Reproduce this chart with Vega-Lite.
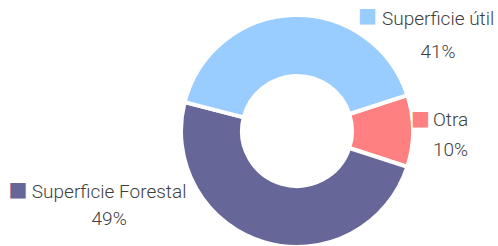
{
  "$schema": "https://vega.github.io/schema/vega-lite/v6.json",
  "autosize": {"type": "none"},
  "width": 400,
  "height": 230,
  "padding": {"left": 97, "top": 16, "right": 1, "bottom": 0},
  "background": "white",
  "config": {"view": {"stroke": null}},
  "data": {
    "values": [
      {"categoria": "Otra", "valor": 10},
      {"categoria": "Superficie Forestal", "valor": 49},
      {"categoria": "Superficie útil", "valor": 41}
    ]
  },
  "transform": [
    {"stack": "valor", "groupby": [], "as": ["v0", "v1"]},
    {"calculate": "(datum.v0 + datum.v1) / 2", "as": "vmid"},
    {"calculate": "[datum.categoria, datum.valor + '%']", "as": "etiqueta"}
  ],
  "layer": [
    {
      "mark": {"type": "arc", "innerRadius": 55, "outerRadius": 116, "stroke": "white", "strokeWidth": 4},
      "encoding": {
        "theta": {"field": "v0", "type": "quantitative", "stack": null, "scale": {"domain": [0, 100], "range": [1.2566370614, 7.5398223686]}},
        "theta2": {"field": "v1"},
        "color": {"field": "categoria", "type": "nominal", "legend": null, "scale": {"domain": ["Otra", "Superficie Forestal", "Superficie útil"], "range": ["#FF8080", "#666699", "#99CCFF"]}}
      }
    },
    {
      "transform": [{"filter": "datum.categoria == 'Superficie útil'"}],
      "mark": {"type": "text", "radius": 125, "dx": 145, "dy": 19, "align": "center", "baseline": "alphabetic", "lineHeight": 33, "font": "Roboto", "fontSize": 19, "fontWeight": 300, "color": "#404040"},
      "encoding": {
        "theta": {"field": "vmid", "type": "quantitative", "stack": null, "scale": {"domain": [0, 100], "range": [1.2566370614, 7.5398223686]}},
        "text": {"field": "etiqueta"}
      }
    },
    {
      "transform": [{"filter": "datum.categoria == 'Otra'"}],
      "mark": {"type": "text", "radius": 125, "dx": 28.5, "dy": -5, "align": "center", "baseline": "alphabetic", "lineHeight": 30, "font": "Roboto", "fontSize": 19, "fontWeight": 300, "color": "#404040"},
      "encoding": {
        "theta": {"field": "vmid", "type": "quantitative", "stack": null, "scale": {"domain": [0, 100], "range": [1.2566370614, 7.5398223686]}},
        "text": {"field": "etiqueta"}
      }
    },
    {
      "transform": [{"filter": "datum.categoria == 'Superficie Forestal'"}],
      "mark": {"type": "text", "radius": 125, "dx": -153, "dy": -53, "align": "center", "baseline": "alphabetic", "lineHeight": 27, "font": "Roboto", "fontSize": 19, "fontWeight": 300, "color": "#404040"},
      "encoding": {
        "theta": {"field": "vmid", "type": "quantitative", "stack": null, "scale": {"domain": [0, 100], "range": [1.2566370614, 7.5398223686]}},
        "text": {"field": "etiqueta"}
      }
    },
    {
      "transform": [{"filter": "datum.categoria == 'Superficie útil'"}],
      "mark": {"type": "text", "radius": 125, "dx": 74.4, "dy": 10.4, "align": "center", "baseline": "middle", "font": "DejaVu Sans", "fontSize": 20, "text": "■"},
      "encoding": {
        "theta": {"field": "vmid", "type": "quantitative", "stack": null, "scale": {"domain": [0, 100], "range": [1.2566370614, 7.5398223686]}},
        "color": {"field": "categoria", "type": "nominal", "legend": null}
      }
    },
    {
      "transform": [{"filter": "datum.categoria == 'Otra'"}],
      "mark": {"type": "text", "radius": 125, "dx": -1.5, "dy": -12.5, "align": "center", "baseline": "middle", "font": "DejaVu Sans", "fontSize": 20, "text": "■"},
      "encoding": {
        "theta": {"field": "vmid", "type": "quantitative", "stack": null, "scale": {"domain": [0, 100], "range": [1.2566370614, 7.5398223686]}},
        "color": {"field": "categoria", "type": "nominal", "legend": null}
      }
    },
    {
      "transform": [{"filter": "datum.categoria == 'Superficie Forestal'"}],
      "mark": {"type": "text", "radius": 125, "dx": -244.1, "dy": -61, "align": "center", "baseline": "middle", "font": "DejaVu Sans", "fontSize": 20, "text": "■"},
      "encoding": {
        "theta": {"field": "vmid", "type": "quantitative", "stack": null, "scale": {"domain": [0, 100], "range": [1.2566370614, 7.5398223686]}},
        "color": {"field": "categoria", "type": "nominal", "legend": null}
      }
    }
  ]
}
